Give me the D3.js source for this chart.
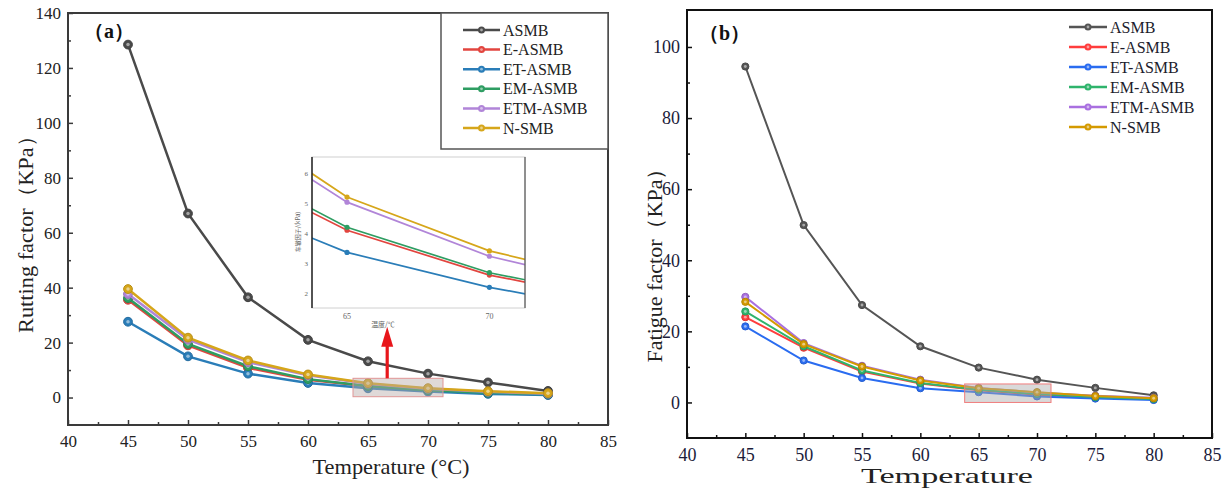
<!DOCTYPE html>
<html>
<head>
<meta charset="utf-8">
<script src="https://cdn.jsdelivr.net/npm/d3@7"></script>
<style>
  body { margin: 0; background: #fff; }
  svg text { font-family: "Liberation Serif", "Times New Roman", serif; }
</style>
</head>
<body>
<svg id="chart" width="1228" height="490"></svg>
<script>
// temperatures (x) and series names
var temps = [45, 50, 55, 60, 65, 70, 75, 80];
var names = ["ASMB", "E-ASMB", "ET-ASMB", "EM-ASMB", "ETM-ASMB", "N-SMB"];

// (a) rutting factor, KPa
var rutASMB = [128.5, 67, 36.5, 21, 13.2, 8.7, 5.5, 2.4];
var rutE    = [35.6, 19, 10.8, 6.5, 4.1, 2.6, 1.67, 1.1];
var rutET   = [27.6, 15, 8.7, 5.3, 3.36, 2.19, 1.33, 0.9];
var rutEM   = [36.2, 19.5, 11.4, 6.7, 4.2, 2.68, 1.74, 1.2];
var rutETM  = [37.7, 21.1, 12.9, 8.1, 5.04, 3.23, 2.1, 1.4];
var rutN    = [39.5, 21.8, 13.5, 8.4, 5.21, 3.41, 2.29, 1.6];

// (b) fatigue factor, KPa
var fatASMB = [94.5, 49.9, 27.4, 15.8, 9.8, 6.4, 4.1, 2.0];
var fatE    = [24.0, 15.4, 8.7, 5.3, 3.4, 2.2, 1.4, 0.9];
var fatET   = [21.4, 11.8, 6.9, 4.0, 2.9, 1.7, 1.1, 0.7];
var fatEM   = [25.6, 15.8, 9.0, 5.5, 3.6, 2.4, 1.5, 1.0];
var fatETM  = [29.7, 16.7, 10.3, 6.4, 4.1, 2.8, 1.9, 1.3];
var fatN    = [28.3, 16.4, 10.1, 6.2, 4.0, 2.9, 1.8, 1.2];

var xTicks = [40, 45, 50, 55, 60, 65, 70, 75, 80, 85];
var rutTicks = [0, 20, 40, 60, 80, 100, 120, 140];
var fatTicks = [0, 20, 40, 60, 80, 100];
var insetXTicks = [65, 70];
var insetYTicks = [2, 3, 4, 5, 6];

var colorsA = ["#4a4a4a", "#e2453f", "#2a7db8", "#2e9d62", "#b185d8", "#d6a61a"];
var colorsB = ["#555555", "#ff3d3d", "#2a6cf0", "#2fb46c", "#a970e0", "#d49a00"];

var svg = d3.select("#chart");

function drawPanel(p) {
    var g = svg.append("g");
    var x = d3.scaleLinear().domain([40, 85]).range([p.left, p.right]);
    var y = d3.scaleLinear().domain(p.yDomain).range([p.bottom, p.top]);

    // inward ticks
    var minorX = d3.range(42.5, 85, 5);
    var minorY = p.minorY;
    g.append("g").attr("transform", "translate(0," + p.bottom + ")")
        .call(d3.axisBottom(x).tickValues(xTicks).tickSize(-5).tickPadding(10))
        .call(function (a) { a.select(".domain").remove(); });
    g.append("g").attr("transform", "translate(0," + p.bottom + ")")
        .call(d3.axisBottom(x).tickValues(minorX).tickSize(-3).tickFormat(""))
        .call(function (a) { a.select(".domain").remove(); });
    g.append("g").attr("transform", "translate(" + p.left + ",0)")
        .call(d3.axisLeft(y).tickValues(p.yTicks).tickSize(-5).tickPadding(7))
        .call(function (a) { a.select(".domain").remove(); });
    g.append("g").attr("transform", "translate(" + p.left + ",0)")
        .call(d3.axisLeft(y).tickValues(minorY).tickSize(-3).tickFormat(""))
        .call(function (a) { a.select(".domain").remove(); });
    g.selectAll(".tick line").attr("stroke", p.axisColor).attr("stroke-width", 1.5);
    g.selectAll(".tick text").attr("font-size", p.tickFont).attr("fill", p.tickColor)
        .style("font-family", "'Liberation Serif', serif");

    // frame
    g.append("rect").attr("x", p.left).attr("y", p.top)
        .attr("width", p.right - p.left).attr("height", p.bottom - p.top)
        .attr("fill", "none").attr("stroke", p.axisColor).attr("stroke-width", p.frameWidth);

    var line = d3.line().x(function (d) { return x(d[0]); }).y(function (d) { return y(d[1]); });

    p.series.forEach(function (vals, i) {
        var pts = temps.map(function (t, j) { return [t, vals[j]]; });
        g.append("path").datum(pts).attr("d", line).attr("fill", "none")
            .attr("stroke", p.colors[i]).attr("stroke-width", p.lineWidth);
        g.selectAll(null).data(pts).enter().append("circle")
            .attr("cx", function (d) { return x(d[0]); }).attr("cy", function (d) { return y(d[1]); })
            .attr("r", p.markerR).attr("fill", p.colors[i])
            .attr("stroke", d3.color(p.colors[i]).darker(0.4)).attr("stroke-width", 1);
        g.selectAll(null).data(pts).enter().append("circle")
            .attr("cx", function (d) { return x(d[0]); }).attr("cy", function (d) { return y(d[1]); })
            .attr("r", p.markerR * 0.4).attr("fill", "#fff").attr("opacity", 0.5);
    });

    // highlighted zoom region
    g.append("rect")
        .attr("x", x(p.box[0])).attr("y", y(p.box[3]))
        .attr("width", x(p.box[1]) - x(p.box[0])).attr("height", y(p.box[2]) - y(p.box[3]))
        .attr("fill", p.boxFill).attr("stroke", p.boxStroke).attr("stroke-width", 1);

    // axis titles
    g.append("text").attr("x", p.xTitle[0]).attr("y", p.xTitle[1])
        .attr("text-anchor", "middle").attr("font-size", p.titleFont).attr("fill", "#222")
        .attr("textLength", p.xTitle[2]).attr("lengthAdjust", "spacingAndGlyphs")
        .text(p.xLabel);
    g.append("text")
        .attr("transform", "translate(" + p.yTitle[0] + "," + p.yTitle[1] + ") rotate(-90)")
        .attr("text-anchor", "middle").attr("font-size", p.titleFont).attr("fill", "#222")
        .attr("textLength", p.yTitle[2]).attr("lengthAdjust", "spacingAndGlyphs")
        .text(p.yLabel);

    // panel tag
    g.append("text").attr("x", p.tag[0]).attr("y", p.tag[1])
        .attr("font-size", 20).attr("font-weight", "bold").attr("fill", "#111")
        .text(p.tagText);

    // legend
    if (p.legendBox) {
        g.append("rect").attr("x", p.legendBox[0]).attr("y", p.legendBox[1])
            .attr("width", p.legendBox[2]).attr("height", p.legendBox[3])
            .attr("fill", "#fff").attr("stroke", "#555").attr("stroke-width", 1.5);
    }
    var lg = g.append("g");
    names.forEach(function (n, i) {
        var cy = p.legend.y + i * p.legend.step;
        lg.append("line").attr("x1", p.legend.x1).attr("x2", p.legend.x2)
            .attr("y1", cy).attr("y2", cy).attr("stroke", p.colors[i]).attr("stroke-width", 2.5);
        lg.append("circle").attr("cx", (p.legend.x1 + p.legend.x2) / 2).attr("cy", cy)
            .attr("r", 3.5).attr("fill", p.colors[i]);
        lg.append("circle").attr("cx", (p.legend.x1 + p.legend.x2) / 2).attr("cy", cy)
            .attr("r", 1.4).attr("fill", "#fff").attr("opacity", 0.5);
        lg.append("text").attr("x", p.legend.tx).attr("y", cy + 5.5)
            .attr("font-size", 16).attr("fill", p.legendColor).text(n);
    });

    return { x: x, y: y, g: g };
}

var seriesA = [rutASMB, rutE, rutET, rutEM, rutETM, rutN];
var seriesB = [fatASMB, fatE, fatET, fatEM, fatETM, fatN];

var pa = drawPanel({
    left: 68, right: 608, top: 13, bottom: 425,
    yDomain: [-10, 140], yTicks: rutTicks, minorY: d3.range(10, 140, 20),
    series: seriesA, colors: colorsA, lineWidth: 2.5, markerR: 4.4,
    axisColor: "#3a3a3a", frameWidth: 2, tickColor: "#222", tickFont: 17,
    box: [63.75, 71.25, 0.3, 7], boxFill: "rgba(185,170,168,0.45)", boxStroke: "#e09595",
    xLabel: "Temperature (°C)", xTitle: [391, 474, 157],
    yLabel: "Rutting factor（KPa）", yTitle: [33, 229, 208],
    titleFont: 21, tag: [84, 38], tagText: "（a）",
    legendBox: [441, 13, 167, 136],
    legend: { x1: 463, x2: 500, tx: 503, y: 30, step: 19.6 }, legendColor: "#222"
});

var pb = drawPanel({
    left: 687, right: 1212, top: 10, bottom: 438,
    yDomain: [-10, 110.4], yTicks: fatTicks, minorY: d3.range(10, 110, 20),
    series: seriesB, colors: colorsB, lineWidth: 2, markerR: 3.6,
    axisColor: "#111", frameWidth: 2, tickColor: "#1c1c3a", tickFont: 18,
    box: [63.8, 71.2, 0, 5.2], boxFill: "rgba(170,170,170,0.45)", boxStroke: "#f07c7c",
    xLabel: "Temperature", xTitle: [947, 483, 172],
    yLabel: "Fatigue factor（KPa）", yTitle: [662, 260, 205],
    titleFont: 21, tag: [699, 40], tagText: "（b）",
    legendBox: null,
    legend: { x1: 1069, x2: 1107, tx: 1110, y: 27, step: 20 }, legendColor: "#1c1c2c"
});

// red arrow pointing from the zoom box up to the inset (panel a)
var ax = pa.x(66.6), ay0 = pa.y(7), ay1 = pa.y(25.8);
pa.g.append("line").attr("x1", ax).attr("x2", ax).attr("y1", ay0).attr("y2", ay1 + 18)
    .attr("stroke", "#e8161b").attr("stroke-width", 3.2);
pa.g.append("path")
    .attr("d", "M" + (ax - 6) + "," + (ay1 + 20) + "L" + ax + "," + ay1 + "L" + (ax + 6) + "," + (ay1 + 20) + "Z")
    .attr("fill", "#e8161b");

// inset: magnified view of 65-70 °C
var inset = { left: 312, right: 525, top: 157, bottom: 308 };
var ix = d3.scaleLinear().domain([63.77, 71.25]).range([inset.left, inset.right]);
var iy = d3.scaleLinear().domain([1.5, 6.55]).range([inset.bottom, inset.top]);
var ig = svg.append("g");
ig.append("rect").attr("x", inset.left).attr("y", inset.top)
    .attr("width", inset.right - inset.left).attr("height", inset.bottom - inset.top)
    .attr("fill", "#fff").attr("stroke", "#d0d0d0").attr("stroke-width", 1);
ig.append("clipPath").attr("id", "insetClip").append("rect")
    .attr("x", inset.left).attr("y", inset.top)
    .attr("width", inset.right - inset.left).attr("height", inset.bottom - inset.top);
var iline = d3.line().x(function (d) { return ix(d[0]); }).y(function (d) { return iy(d[1]); });
var ic = ig.append("g").attr("clip-path", "url(#insetClip)");
seriesA.forEach(function (vals, i) {
    if (i === 0) return;
    var pts = temps.map(function (t, j) { return [t, vals[j]]; });
    ic.append("path").datum(pts).attr("d", iline).attr("fill", "none")
        .attr("stroke", colorsA[i]).attr("stroke-width", 1.7);
    ic.selectAll(null).data(pts.filter(function (d) { return d[0] === 65 || d[0] === 70; }))
        .enter().append("circle")
        .attr("cx", function (d) { return ix(d[0]); }).attr("cy", function (d) { return iy(d[1]); })
        .attr("r", 2.6).attr("fill", colorsA[i]);
});
ig.append("line").attr("x1", inset.left).attr("x2", inset.left).attr("y1", inset.top).attr("y2", inset.bottom)
    .attr("stroke", "#222").attr("stroke-width", 1.5);
ig.append("line").attr("x1", inset.right).attr("x2", inset.right).attr("y1", inset.top).attr("y2", inset.bottom)
    .attr("stroke", "#555").attr("stroke-width", 1.2);
ig.selectAll(".ixt").data(insetXTicks).enter().append("text")
    .attr("x", function (d) { return ix(d); }).attr("y", inset.bottom + 11)
    .attr("text-anchor", "middle").attr("font-size", 8).attr("fill", "#666").text(function (d) { return d; });
ig.selectAll(".iyt").data(insetYTicks).enter().append("text")
    .attr("x", inset.left - 4).attr("y", function (d) { return iy(d) + 3; })
    .attr("text-anchor", "end").attr("font-size", 7).attr("fill", "#666").text(function (d) { return d; });
ig.append("text").attr("x", 383).attr("y", 327).attr("text-anchor", "middle")
    .attr("font-size", 7).attr("fill", "#666").style("font-family", "'Noto Sans CJK SC', sans-serif").text("温度/℃");
ig.append("text").attr("transform", "translate(300,232) rotate(-90)").attr("text-anchor", "middle")
    .attr("font-size", 6).attr("fill", "#666").style("font-family", "'Noto Sans CJK SC', sans-serif").text("车辙因子/(kPa)");
</script>
</body>
</html>
